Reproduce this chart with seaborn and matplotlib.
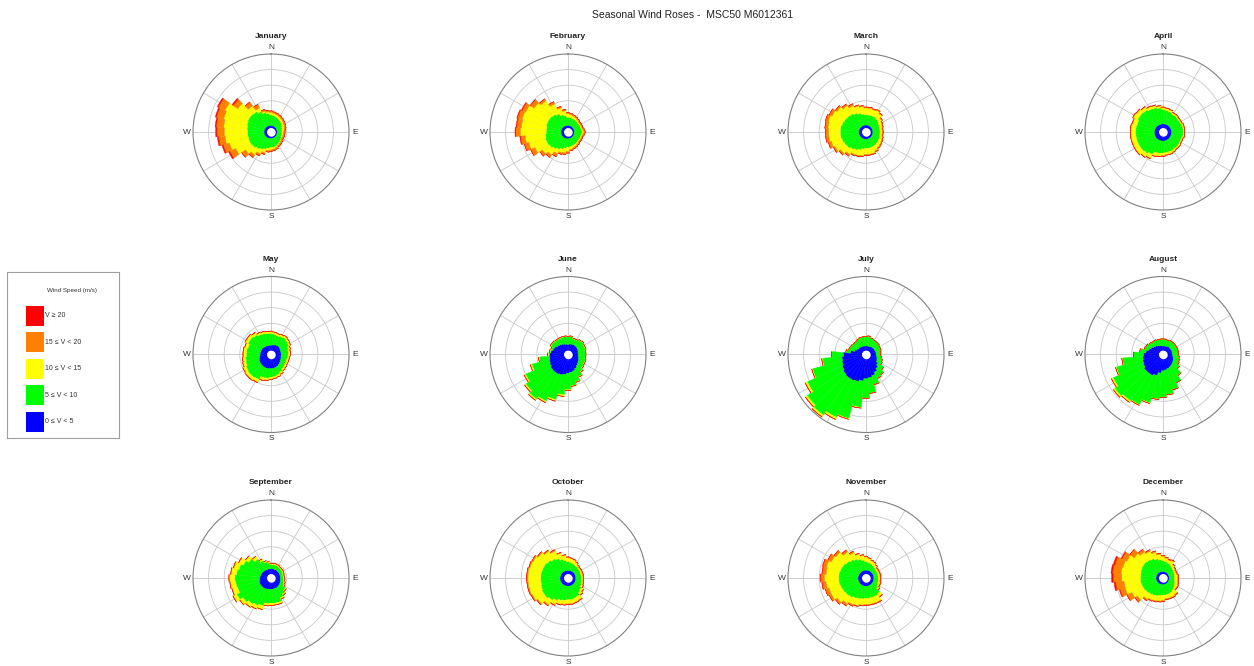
import numpy as np
import matplotlib
matplotlib.use("Agg")
import matplotlib.pyplot as plt
import seaborn as sns
from matplotlib.patches import Rectangle
from matplotlib.colors import to_rgb

# Wind rose data: cumulative radius (in grid-ring units) of the outer edge
# of each speed class, for 36 direction sectors (N, 10, 20, ... 350 deg)
directions = list(range(0, 360, 10))

jan_blue = [0.42, 0.42, 0.41, 0.41, 0.41, 0.4, 0.4, 0.4, 0.4, 0.4, 0.4, 0.4,
            0.4, 0.41, 0.41, 0.42, 0.42, 0.42, 0.43, 0.43, 0.43, 0.44, 0.44, 0.44,
            0.45, 0.45, 0.45, 0.45, 0.45, 0.45, 0.44, 0.44, 0.44, 0.43, 0.43, 0.42]
jan_green = [1.1, 1.05, 1.0, 0.95, 0.9, 0.85, 0.8, 0.75, 0.7, 0.7, 0.7, 0.7,
             0.75, 0.8, 0.85, 0.9, 0.95, 1.0, 1.0, 1.05, 1.15, 1.25, 1.35, 1.45,
             1.5, 1.5, 1.5, 1.5, 1.55, 1.6, 1.65, 1.65, 1.6, 1.45, 1.3, 1.2]
jan_yellow = [1.25, 1.2, 1.15, 1.1, 1.05, 1.0, 0.95, 0.9, 0.85, 0.8, 0.8, 0.8,
              0.8, 0.85, 0.9, 0.95, 1.05, 1.1, 1.15, 1.2, 1.38, 1.55, 1.8, 2.0,
              2.5, 2.75, 2.95, 3.0, 3.05, 3.15, 3.25, 2.6, 2.05, 1.7, 1.38, 1.3]
jan_orange = [1.35, 1.3, 1.25, 1.2, 1.15, 1.1, 1.05, 1.0, 0.95, 0.9, 0.9, 0.9,
              0.9, 0.95, 1.0, 1.05, 1.15, 1.2, 1.25, 1.3, 1.5, 1.7, 2.0, 2.3,
              2.92, 3.17, 3.37, 3.47, 3.52, 3.62, 3.72, 2.97, 2.35, 1.95, 1.5, 1.4]
jan_red = [1.35, 1.3, 1.25, 1.2, 1.15, 1.1, 1.05, 1.0, 0.95, 0.9, 0.9, 0.9,
           0.9, 0.95, 1.0, 1.05, 1.15, 1.2, 1.25, 1.3, 1.5, 1.7, 2.0, 2.3,
           3.0, 3.25, 3.45, 3.55, 3.6, 3.7, 3.8, 3.05, 2.35, 1.95, 1.5, 1.4]

feb_blue = [0.43, 0.43, 0.42, 0.42, 0.42, 0.41, 0.41, 0.41, 0.41, 0.41, 0.41, 0.41,
            0.42, 0.42, 0.42, 0.43, 0.43, 0.43, 0.44, 0.44, 0.44, 0.45, 0.45, 0.45,
            0.45, 0.45, 0.45, 0.45, 0.45, 0.45, 0.45, 0.44, 0.44, 0.44, 0.43, 0.43]
feb_green = [0.95, 0.92, 0.9, 0.88, 0.85, 0.85, 0.85, 0.85, 0.88, 0.9, 0.88, 0.85,
             0.85, 0.85, 0.87, 0.9, 0.92, 0.95, 0.98, 1.05, 1.15, 1.25, 1.35, 1.45,
             1.5, 1.5, 1.45, 1.4, 1.4, 1.45, 1.45, 1.45, 1.4, 1.3, 1.15, 1.05]
feb_yellow = [1.17, 1.12, 1.07, 1.02, 0.97, 0.92, 0.92, 0.92, 0.97, 1.02, 0.97, 0.92,
              0.92, 0.92, 0.97, 1.02, 1.07, 1.12, 1.25, 1.35, 1.38, 1.55, 1.8, 2.0,
              2.35, 2.6, 2.75, 3.05, 3.0, 3.05, 3.0, 2.65, 2.45, 2.0, 1.6, 1.37]
feb_orange = [1.25, 1.2, 1.15, 1.1, 1.05, 1.0, 1.0, 1.0, 1.05, 1.1, 1.05, 1.0,
              1.0, 1.0, 1.05, 1.1, 1.15, 1.2, 1.35, 1.45, 1.5, 1.75, 2.0, 2.2,
              2.65, 2.9, 3.05, 3.35, 3.3, 3.35, 3.25, 2.95, 2.6, 2.15, 1.7, 1.45]
feb_red = [1.25, 1.2, 1.15, 1.1, 1.05, 1.0, 1.0, 1.0, 1.05, 1.1, 1.05, 1.0,
           1.0, 1.0, 1.05, 1.1, 1.15, 1.2, 1.35, 1.45, 1.5, 1.75, 2.0, 2.2,
           2.65, 2.9, 3.1, 3.4, 3.35, 3.4, 3.3, 2.95, 2.6, 2.15, 1.7, 1.45]

mar_blue = [0.45, 0.45, 0.45, 0.45, 0.44, 0.44, 0.44, 0.44, 0.44, 0.44, 0.44, 0.45,
            0.45, 0.45, 0.46, 0.46, 0.46, 0.47, 0.47, 0.47, 0.47, 0.47, 0.47, 0.47,
            0.47, 0.47, 0.47, 0.47, 0.46, 0.46, 0.46, 0.46, 0.45, 0.45, 0.45, 0.45]
mar_green = [1.1, 1.1, 1.1, 1.1, 1.05, 1.0, 0.95, 0.9, 0.9, 0.9, 0.9, 0.92,
             0.95, 0.98, 1.0, 1.02, 1.05, 1.05, 1.05, 1.1, 1.2, 1.3, 1.4, 1.5,
             1.55, 1.6, 1.65, 1.65, 1.65, 1.6, 1.55, 1.5, 1.45, 1.35, 1.25, 1.15]
mar_yellow = [1.54, 1.54, 1.49, 1.54, 1.44, 1.24, 1.14, 1.09, 1.04, 1.04, 1.04, 1.09,
              1.14, 1.19, 1.24, 1.34, 1.44, 1.44, 1.44, 1.54, 1.59, 1.62, 1.78, 1.98,
              2.18, 2.3, 2.4, 2.4, 2.45, 2.5, 2.4, 2.28, 2.08, 1.88, 1.74, 1.64]
mar_orange = [1.6, 1.6, 1.55, 1.6, 1.5, 1.3, 1.2, 1.15, 1.1, 1.1, 1.1, 1.15,
              1.2, 1.25, 1.3, 1.4, 1.5, 1.5, 1.5, 1.6, 1.65, 1.7, 1.9, 2.1,
              2.3, 2.5, 2.6, 2.6, 2.65, 2.7, 2.6, 2.4, 2.2, 2.0, 1.8, 1.7]
mar_red = mar_orange

apr_blue = [0.52, 0.52, 0.53, 0.53, 0.54, 0.54, 0.54, 0.54, 0.55, 0.55, 0.55, 0.55,
            0.56, 0.56, 0.57, 0.57, 0.58, 0.58, 0.58, 0.58, 0.58, 0.58, 0.58, 0.58,
            0.57, 0.57, 0.56, 0.56, 0.55, 0.55, 0.54, 0.54, 0.53, 0.53, 0.52, 0.52]
apr_green = [1.45, 1.4, 1.35, 1.28, 1.28, 1.25, 1.25, 1.28, 1.3, 1.3, 1.3, 1.25,
             1.25, 1.28, 1.28, 1.3, 1.32, 1.32, 1.35, 1.38, 1.4, 1.6, 1.7, 1.75,
             1.75, 1.75, 1.75, 1.75, 1.75, 1.72, 1.8, 1.8, 1.75, 1.65, 1.62, 1.55]
apr_yellow = [1.57, 1.52, 1.47, 1.37, 1.37, 1.32, 1.32, 1.37, 1.37, 1.37, 1.37, 1.32,
              1.32, 1.37, 1.37, 1.42, 1.47, 1.47, 1.52, 1.57, 1.62, 1.87, 1.97, 2.07,
              2.07, 2.07, 2.07, 2.07, 2.07, 2.02, 2.12, 2.07, 1.97, 1.82, 1.77, 1.67]
apr_orange = [1.6, 1.55, 1.5, 1.4, 1.4, 1.35, 1.35, 1.4, 1.4, 1.4, 1.4, 1.35,
              1.35, 1.4, 1.4, 1.45, 1.5, 1.5, 1.55, 1.6, 1.65, 1.9, 2.0, 2.1,
              2.1, 2.1, 2.1, 2.1, 2.1, 2.05, 2.15, 2.1, 2.0, 1.85, 1.8, 1.7]
apr_red = apr_orange

may_blue = [0.6, 0.62, 0.65, 0.68, 0.7, 0.7, 0.68, 0.65, 0.65, 0.65, 0.65, 0.68,
            0.7, 0.75, 0.8, 0.85, 0.88, 0.9, 0.9, 0.92, 0.92, 0.92, 0.9, 0.88,
            0.85, 0.8, 0.75, 0.7, 0.7, 0.68, 0.68, 0.66, 0.64, 0.62, 0.6, 0.6]
may_green = [1.36, 1.31, 1.26, 1.31, 1.36, 1.31, 1.26, 1.16, 1.11, 1.11, 1.06, 1.06,
             1.06, 1.11, 1.16, 1.26, 1.36, 1.41, 1.46, 1.54, 1.55, 1.78, 1.83, 1.83,
             1.78, 1.68, 1.63, 1.58, 1.58, 1.53, 1.63, 1.63, 1.55, 1.45, 1.41, 1.36]
may_yellow = [1.48, 1.43, 1.38, 1.43, 1.48, 1.43, 1.38, 1.28, 1.23, 1.23, 1.18, 1.18,
              1.18, 1.23, 1.28, 1.38, 1.48, 1.53, 1.58, 1.68, 1.73, 1.98, 2.03, 2.03,
              1.98, 1.88, 1.83, 1.78, 1.78, 1.73, 1.83, 1.83, 1.73, 1.58, 1.53, 1.48]
may_orange = [1.5, 1.45, 1.4, 1.45, 1.5, 1.45, 1.4, 1.3, 1.25, 1.25, 1.2, 1.2,
              1.2, 1.25, 1.3, 1.4, 1.5, 1.55, 1.6, 1.7, 1.75, 2.0, 2.05, 2.05,
              2.0, 1.9, 1.85, 1.8, 1.8, 1.75, 1.85, 1.85, 1.75, 1.6, 1.55, 1.5]
may_red = may_orange

jun_blue = [0.65, 0.68, 0.7, 0.72, 0.72, 0.72, 0.7, 0.68, 0.65, 0.65, 0.68, 0.72,
            0.78, 0.82, 0.9, 1.0, 1.1, 1.15, 1.2, 1.3, 1.36, 1.4, 1.4, 1.38,
            1.3, 1.25, 1.2, 1.17, 1.1, 1.0, 0.95, 0.85, 0.8, 0.75, 0.7, 0.67]
jun_green = [1.13, 1.16, 1.06, 1.06, 1.16, 1.21, 1.16, 1.16, 1.11, 1.11, 1.11, 1.16,
             1.16, 1.21, 1.36, 1.56, 1.81, 2.01, 2.25, 2.6, 3.0, 3.3, 3.5, 3.3,
             3.0, 2.4, 1.86, 1.26, 1.16, 1.11, 1.23, 1.21, 1.16, 1.16, 1.16, 1.16]
jun_yellow = [1.17, 1.2, 1.1, 1.1, 1.2, 1.25, 1.2, 1.2, 1.15, 1.15, 1.15, 1.2,
              1.2, 1.25, 1.4, 1.6, 1.85, 2.05, 2.3, 2.7, 3.1, 3.4, 3.6, 3.4,
              3.1, 2.5, 1.9, 1.3, 1.2, 1.15, 1.27, 1.25, 1.2, 1.2, 1.2, 1.2]
jun_orange = jun_yellow
jun_red = jun_yellow

jul_blue = [0.55, 0.55, 0.55, 0.58, 0.6, 0.62, 0.62, 0.63, 0.65, 0.65, 0.7, 0.75,
            0.8, 0.95, 1.1, 1.25, 1.4, 1.5, 1.55, 1.7, 1.8, 1.85, 1.85, 1.8,
            1.7, 1.6, 1.55, 1.45, 1.0, 0.75, 0.65, 0.6, 0.6, 0.58, 0.56, 0.55]
jul_green = [1.17, 1.2, 1.1, 1.05, 1.05, 1.05, 1.0, 1.0, 0.95, 0.95, 1.0, 1.1,
             1.15, 1.4, 1.6, 1.7, 2.0, 2.5, 2.8, 3.4, 4.25, 4.45, 4.75, 4.6,
             4.15, 3.55, 2.8, 2.2, 1.3, 1.15, 1.1, 1.05, 1.05, 1.1, 1.15, 1.15]
jul_yellow = [1.17, 1.2, 1.1, 1.05, 1.05, 1.05, 1.0, 1.0, 0.95, 0.95, 1.0, 1.1,
              1.15, 1.4, 1.6, 1.7, 2.0, 2.5, 2.8, 3.45, 4.3, 4.6, 4.9, 4.75,
              4.3, 3.6, 2.85, 2.2, 1.3, 1.15, 1.1, 1.05, 1.05, 1.1, 1.15, 1.15]
jul_orange = jul_yellow
jul_red = jul_yellow

aug_blue = [0.55, 0.55, 0.56, 0.58, 0.6, 0.6, 0.6, 0.6, 0.6, 0.6, 0.65, 0.7,
            0.75, 0.8, 0.85, 0.9, 0.95, 1.0, 1.05, 1.2, 1.4, 1.5, 1.5, 1.5,
            1.4, 1.35, 1.3, 1.25, 1.1, 0.95, 0.85, 0.75, 0.7, 0.65, 0.6, 0.56]
aug_green = [1.0, 1.0, 0.95, 1.0, 1.0, 1.0, 1.0, 1.0, 1.0, 1.0, 1.05, 1.1,
             1.15, 1.3, 1.65, 2.0, 2.35, 2.58, 2.73, 2.87, 3.2, 3.55, 3.63, 3.78,
             3.53, 3.1, 2.62, 1.9, 1.5, 1.25, 1.2, 1.1, 1.05, 1.05, 1.0, 1.0]
aug_yellow = [1.0, 1.0, 0.95, 1.0, 1.0, 1.0, 1.0, 1.0, 1.0, 1.0, 1.05, 1.1,
              1.15, 1.3, 1.65, 2.0, 2.35, 2.6, 2.75, 2.9, 3.25, 3.6, 3.75, 3.9,
              3.65, 3.15, 2.65, 1.9, 1.5, 1.25, 1.2, 1.1, 1.05, 1.05, 1.0, 1.0]
aug_orange = aug_yellow
aug_red = aug_yellow

sep_blue = [0.6, 0.6, 0.6, 0.6, 0.6, 0.6, 0.6, 0.6, 0.6, 0.6, 0.62, 0.64,
            0.66, 0.68, 0.7, 0.72, 0.72, 0.72, 0.72, 0.74, 0.76, 0.78, 0.8, 0.8,
            0.8, 0.78, 0.75, 0.72, 0.7, 0.68, 0.66, 0.64, 0.62, 0.6, 0.6, 0.6]
sep_green = [0.87, 0.87, 0.87, 0.87, 0.83, 0.83, 0.83, 0.81, 0.78, 0.78, 0.83, 0.87,
             0.92, 1.12, 1.27, 1.4, 1.62, 1.62, 1.62, 1.65, 1.85, 1.95, 2.05, 2.2,
             2.42, 2.22, 2.27, 2.32, 2.22, 2.12, 1.95, 1.75, 1.48, 1.22, 1.07, 0.97]
sep_yellow = [0.95, 0.95, 0.95, 0.95, 0.9, 0.9, 0.9, 0.88, 0.85, 0.85, 0.9, 0.95,
              1.0, 1.2, 1.35, 1.5, 1.75, 1.75, 1.75, 1.8, 2.1, 2.2, 2.3, 2.45,
              2.67, 2.57, 2.62, 2.67, 2.57, 2.47, 2.27, 2.0, 1.7, 1.35, 1.15, 1.05]
sep_orange = [0.95, 0.95, 0.95, 0.95, 0.9, 0.9, 0.9, 0.88, 0.85, 0.85, 0.9, 0.95,
              1.0, 1.2, 1.35, 1.5, 1.75, 1.75, 1.75, 1.8, 2.1, 2.2, 2.3, 2.45,
              2.7, 2.6, 2.65, 2.7, 2.6, 2.5, 2.3, 2.0, 1.7, 1.35, 1.15, 1.05]
sep_red = sep_orange

oct_blue = [0.48, 0.48, 0.48, 0.49, 0.49, 0.5, 0.5, 0.5, 0.5, 0.5, 0.5, 0.51,
            0.51, 0.52, 0.52, 0.53, 0.53, 0.53, 0.53, 0.53, 0.53, 0.53, 0.53, 0.53,
            0.53, 0.52, 0.52, 0.52, 0.51, 0.51, 0.5, 0.5, 0.5, 0.49, 0.49, 0.48]
oct_green = [1.05, 1.0, 0.95, 0.92, 0.9, 0.88, 0.86, 0.85, 0.85, 0.85, 0.87, 0.9,
             0.95, 1.05, 1.15, 1.3, 1.35, 1.4, 1.4, 1.45, 1.5, 1.6, 1.75, 1.85,
             1.85, 1.8, 1.75, 1.75, 1.75, 1.72, 1.7, 1.62, 1.5, 1.38, 1.25, 1.12]
oct_yellow = [1.31, 1.26, 1.21, 1.11, 1.01, 0.96, 0.96, 0.96, 0.96, 0.96, 0.96, 1.01,
              1.06, 1.21, 1.31, 1.56, 1.61, 1.66, 1.66, 1.71, 1.76, 1.91, 2.12, 2.37,
              2.52, 2.57, 2.57, 2.57, 2.57, 2.52, 2.47, 2.32, 2.12, 1.92, 1.66, 1.46]
oct_orange = [1.35, 1.3, 1.25, 1.15, 1.05, 1.0, 1.0, 1.0, 1.0, 1.0, 1.0, 1.05,
              1.1, 1.25, 1.35, 1.6, 1.65, 1.7, 1.7, 1.75, 1.8, 1.95, 2.2, 2.45,
              2.6, 2.65, 2.65, 2.65, 2.65, 2.6, 2.55, 2.4, 2.2, 2.0, 1.7, 1.5]
oct_red = oct_orange

nov_blue = [0.5, 0.5, 0.5, 0.5, 0.5, 0.5, 0.5, 0.5, 0.5, 0.5, 0.5, 0.51,
            0.51, 0.52, 0.52, 0.53, 0.53, 0.53, 0.53, 0.53, 0.53, 0.53, 0.53, 0.53,
            0.53, 0.52, 0.52, 0.52, 0.51, 0.51, 0.5, 0.5, 0.5, 0.5, 0.5, 0.5]
nov_green = [1.05, 1.0, 0.95, 0.9, 0.85, 0.8, 0.8, 0.78, 0.78, 0.78, 0.8, 0.82,
             0.85, 0.95, 1.25, 1.3, 1.3, 1.3, 1.3, 1.35, 1.4, 1.45, 1.55, 1.6,
             1.65, 1.7, 1.75, 1.75, 1.75, 1.7, 1.65, 1.55, 1.45, 1.35, 1.25, 1.15]
nov_yellow = [1.35, 1.25, 1.15, 1.1, 1.0, 0.9, 0.9, 0.9, 0.9, 0.9, 0.9, 0.95,
              0.95, 1.05, 1.45, 1.7, 1.7, 1.7, 1.7, 1.75, 1.85, 1.9, 2.05, 2.25,
              2.45, 2.45, 2.57, 2.67, 2.57, 2.62, 2.45, 2.35, 2.05, 1.8, 1.6, 1.45]
nov_orange = [1.4, 1.3, 1.2, 1.15, 1.05, 0.95, 0.95, 0.95, 0.95, 0.95, 0.95, 1.0,
              1.0, 1.1, 1.5, 1.75, 1.75, 1.75, 1.75, 1.8, 1.9, 2.0, 2.2, 2.4,
              2.6, 2.7, 2.82, 2.92, 2.82, 2.87, 2.7, 2.5, 2.2, 1.9, 1.65, 1.5]
nov_red = [1.4, 1.3, 1.2, 1.15, 1.05, 0.95, 0.95, 0.95, 0.95, 0.95, 0.95, 1.0,
           1.0, 1.1, 1.5, 1.75, 1.75, 1.75, 1.75, 1.8, 1.9, 2.0, 2.2, 2.4,
           2.6, 2.7, 2.85, 2.95, 2.85, 2.9, 2.7, 2.5, 2.2, 1.9, 1.65, 1.5]

dec_blue = [0.42, 0.42, 0.41, 0.41, 0.41, 0.4, 0.4, 0.4, 0.4, 0.4, 0.4, 0.4,
            0.41, 0.41, 0.42, 0.42, 0.42, 0.43, 0.43, 0.43, 0.43, 0.44, 0.44, 0.44,
            0.45, 0.45, 0.45, 0.45, 0.45, 0.45, 0.44, 0.44, 0.44, 0.43, 0.43, 0.42]
dec_green = [1.1, 1.05, 1.0, 0.95, 0.88, 0.82, 0.78, 0.76, 0.75, 0.75, 0.76, 0.8,
             0.85, 0.9, 0.98, 1.05, 1.08, 1.1, 1.1, 1.15, 1.2, 1.25, 1.3, 1.35,
             1.4, 1.42, 1.45, 1.45, 1.45, 1.48, 1.5, 1.5, 1.45, 1.38, 1.28, 1.18]
dec_yellow = [1.39, 1.29, 1.19, 1.24, 1.04, 0.94, 0.89, 0.89, 0.94, 0.94, 0.94, 0.99,
              1.04, 1.04, 1.29, 1.34, 1.34, 1.34, 1.44, 1.49, 1.54, 1.59, 1.7, 2.0,
              2.2, 2.5, 2.5, 2.65, 2.7, 2.65, 2.55, 2.25, 2.05, 1.9, 1.72, 1.52]
dec_orange = [1.45, 1.35, 1.25, 1.3, 1.1, 1.0, 0.95, 0.95, 1.0, 1.0, 1.0, 1.05,
              1.1, 1.1, 1.35, 1.4, 1.4, 1.4, 1.5, 1.55, 1.6, 1.65, 1.8, 2.2,
              2.55, 2.85, 3.05, 3.2, 3.25, 3.2, 2.9, 2.6, 2.25, 2.0, 1.8, 1.6]
dec_red = [1.45, 1.35, 1.25, 1.3, 1.1, 1.0, 0.95, 0.95, 1.0, 1.0, 1.0, 1.05,
           1.1, 1.1, 1.35, 1.4, 1.4, 1.4, 1.5, 1.55, 1.6, 1.65, 1.8, 2.2,
           2.55, 2.9, 3.15, 3.3, 3.35, 3.3, 2.95, 2.6, 2.25, 2.0, 1.8, 1.6]

months = ["January", "February", "March", "April", "May", "June",
          "July", "August", "September", "October", "November", "December"]
roses = [
    (jan_blue, jan_green, jan_yellow, jan_orange, jan_red),
    (feb_blue, feb_green, feb_yellow, feb_orange, feb_red),
    (mar_blue, mar_green, mar_yellow, mar_orange, mar_red),
    (apr_blue, apr_green, apr_yellow, apr_orange, apr_red),
    (may_blue, may_green, may_yellow, may_orange, may_red),
    (jun_blue, jun_green, jun_yellow, jun_orange, jun_red),
    (jul_blue, jul_green, jul_yellow, jul_orange, jul_red),
    (aug_blue, aug_green, aug_yellow, aug_orange, aug_red),
    (sep_blue, sep_green, sep_yellow, sep_orange, sep_red),
    (oct_blue, oct_green, oct_yellow, oct_orange, oct_red),
    (nov_blue, nov_green, nov_yellow, nov_orange, nov_red),
    (dec_blue, dec_green, dec_yellow, dec_orange, dec_red),
]
speed_labels = ["0 \u2264 V < 5", "5 \u2264 V < 10", "10 \u2264 V < 15",
                "15 \u2264 V < 20", "V \u2265 20"]
compass = {"N": 0, "E": 90, "S": 180, "W": 270}

# --- style ---
sns.set_style("white")
plt.rcParams['font.family'] = ['Liberation Sans', 'DejaVu Sans']
speed_colors = sns.color_palette(["#0000ff", "#00ff00", "#ffff00", "#ff8000", "#ff0000"])
# thin seams between sectors (none on the small blue core)
edge_colors = [speed_colors[0]] + [tuple(0.88 * np.array(to_rgb(c)) + 0.08)
                                   for c in speed_colors[1:]]

W, H = 1254, 666
fig = plt.figure(figsize=(W / 100, H / 100), dpi=100)

R = 78  # rose radius in pixels
cx = [271, 568, 866, 1163]
cy = [132, 354.5, 578]
hole = 0.27
theta = np.deg2rad(directions)
width = np.deg2rad(10)
ring = np.linspace(0, 2 * np.pi, 120)

for k, (name, classes) in enumerate(zip(months, roses)):
    row, col = divmod(k, 4)
    ax = fig.add_axes([(cx[col] - R) / W, 1 - (cy[row] + R) / H, 2 * R / W, 2 * R / H],
                      projection='polar')
    ax.set_theta_zero_location('N')
    ax.set_theta_direction(-1)

    prev = np.full(len(directions), hole)
    for cum, color, ec in zip(classes, speed_colors, edge_colors):
        cum = np.asarray(cum, dtype=float)
        ax.bar(theta, cum - prev, width=width, bottom=prev, color=color,
               edgecolor=ec, linewidth=0.3, zorder=3)
        prev = cum
    # blank calm hole in the middle
    ax.fill_between(ring, 0, hole, color='white', lw=0, zorder=4)

    ax.set_ylim(0, 5)
    ax.set_yticks([1, 2, 3, 4])
    ax.set_yticklabels([])
    ax.set_xticks(np.deg2rad(np.arange(0, 360, 30)))
    ax.set_xticklabels([])
    ax.grid(True, color='#c8c8c8', linewidth=0.6)
    ax.set_axisbelow(True)
    ax.spines['polar'].set_color('#808080')
    ax.spines['polar'].set_linewidth(0.8)
    for lab, ang in compass.items():
        ax.text(np.deg2rad(ang), 5.4, lab, ha='center', va='center',
                fontsize=6, color='#333333')

    fig.text(cx[col] / W, 1 - (cy[row] - 95) / H, name, ha='center', va='center',
             fontsize=6, fontweight='bold', color='#222222')

fig.text(693 / W, 1 - 15 / H, "Seasonal Wind Roses -  MSC50 M6012361",
         ha='center', va='center', fontsize=7.5, color='#222222')

# --- legend box ---
lax = fig.add_axes([7 / W, 1 - 438 / H, 112 / W, 166 / H])
lax.set_xlim(0, 112)
lax.set_ylim(166, 0)
lax.set_xticks([])
lax.set_yticks([])
for sp in lax.spines.values():
    sp.set_color('#a0a0a0')
    sp.set_linewidth(0.8)
lax.text(65, 18, "Wind Speed (m/s)", ha='center', va='center', fontsize=4.5, color='#333333')
for i, (lab, color) in enumerate(zip(speed_labels[::-1], speed_colors[::-1])):
    top = 33.7 + i * 26.5
    lax.add_patch(Rectangle((19, top), 17.6, 20, facecolor=color, edgecolor='none'))
    lax.text(37.8, top + 10, lab, ha='left', va='center', fontsize=5, color='#333333')

fig.savefig("out.png", dpi=100)
